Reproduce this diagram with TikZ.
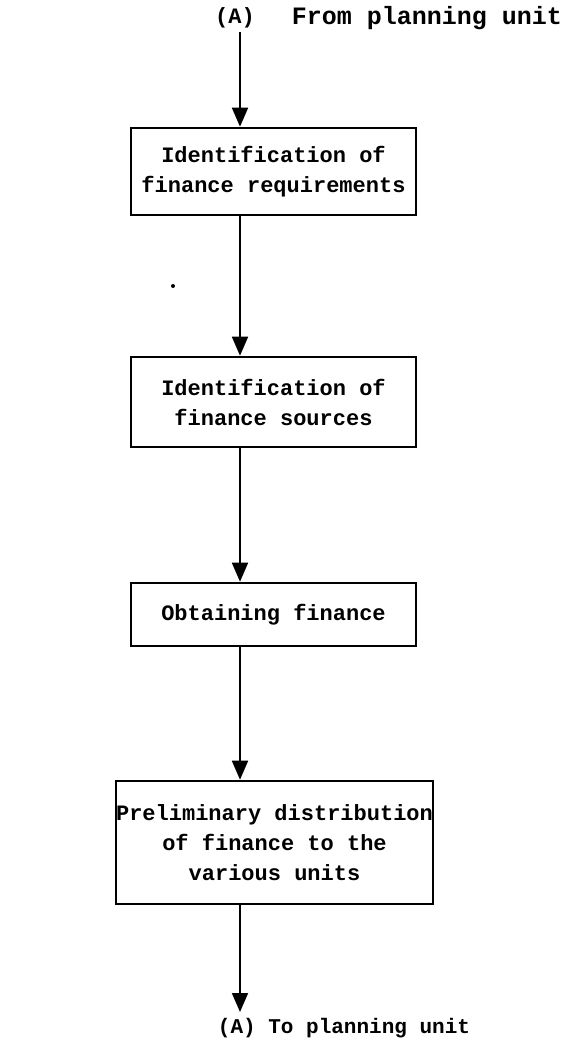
\documentclass[tikz,border=0pt]{standalone}
\usepackage{fontspec}
\setmonofont{Liberation Mono}
\usetikzlibrary{arrows.meta}
\tikzset{
  stepbox/.style={draw, line width=2.6pt, align=center, inner sep=0pt,
    font=\ttfamily\bfseries\fontsize{22}{30}\selectfont},
  flow/.style={line width=1.8pt, -{Triangle[width=16pt,length=19pt]}},
  lab/.style={inner sep=0pt, font=\ttfamily\bfseries\fontsize{22}{30}\selectfont}
}
\begin{document}
\begin{tikzpicture}[x=1pt,y=-1pt]
\useasboundingbox (0,0) rectangle (572,1041);
\node[lab] (la) at (235,18) {(A)};
\node[lab, font=\ttfamily\bfseries\fontsize{25}{30}\selectfont] (lf) at (427,18) {From planning unit};
\coordinate (top) at (240,32);
\node[stepbox, minimum width=285pt, minimum height=87pt] (b1) at (273.5,171.5)
  {Identification of\\finance requirements};
\node[stepbox, minimum width=285pt, minimum height=90pt] (b2) at (273.5,402)
  {Identification of\\finance sources};
\node[stepbox, minimum width=285pt, minimum height=63pt] (b3) at (273.5,614.5)
  {Obtaining finance};
\node[stepbox, minimum width=315pt, minimum height=123pt] (b4) at (274.5,842.5)
  {Preliminary distribution\\of finance to the\\various units};
\coordinate (bot) at (240,1012);
\node[lab, font=\ttfamily\bfseries\fontsize{21}{30}\selectfont] (lt) at (344,1028) {(A) To planning unit};
\fill (173,286) circle (2pt);
\draw[flow] (top) -- (top |- b1.north);
\draw[flow] (b1.south -| top) -- (b2.north -| top);
\draw[flow] (b2.south -| top) -- (b3.north -| top);
\draw[flow] (b3.south -| top) -- (b4.north -| top);
\draw[flow] (b4.south -| top) -- (bot);
\end{tikzpicture}
\end{document}
